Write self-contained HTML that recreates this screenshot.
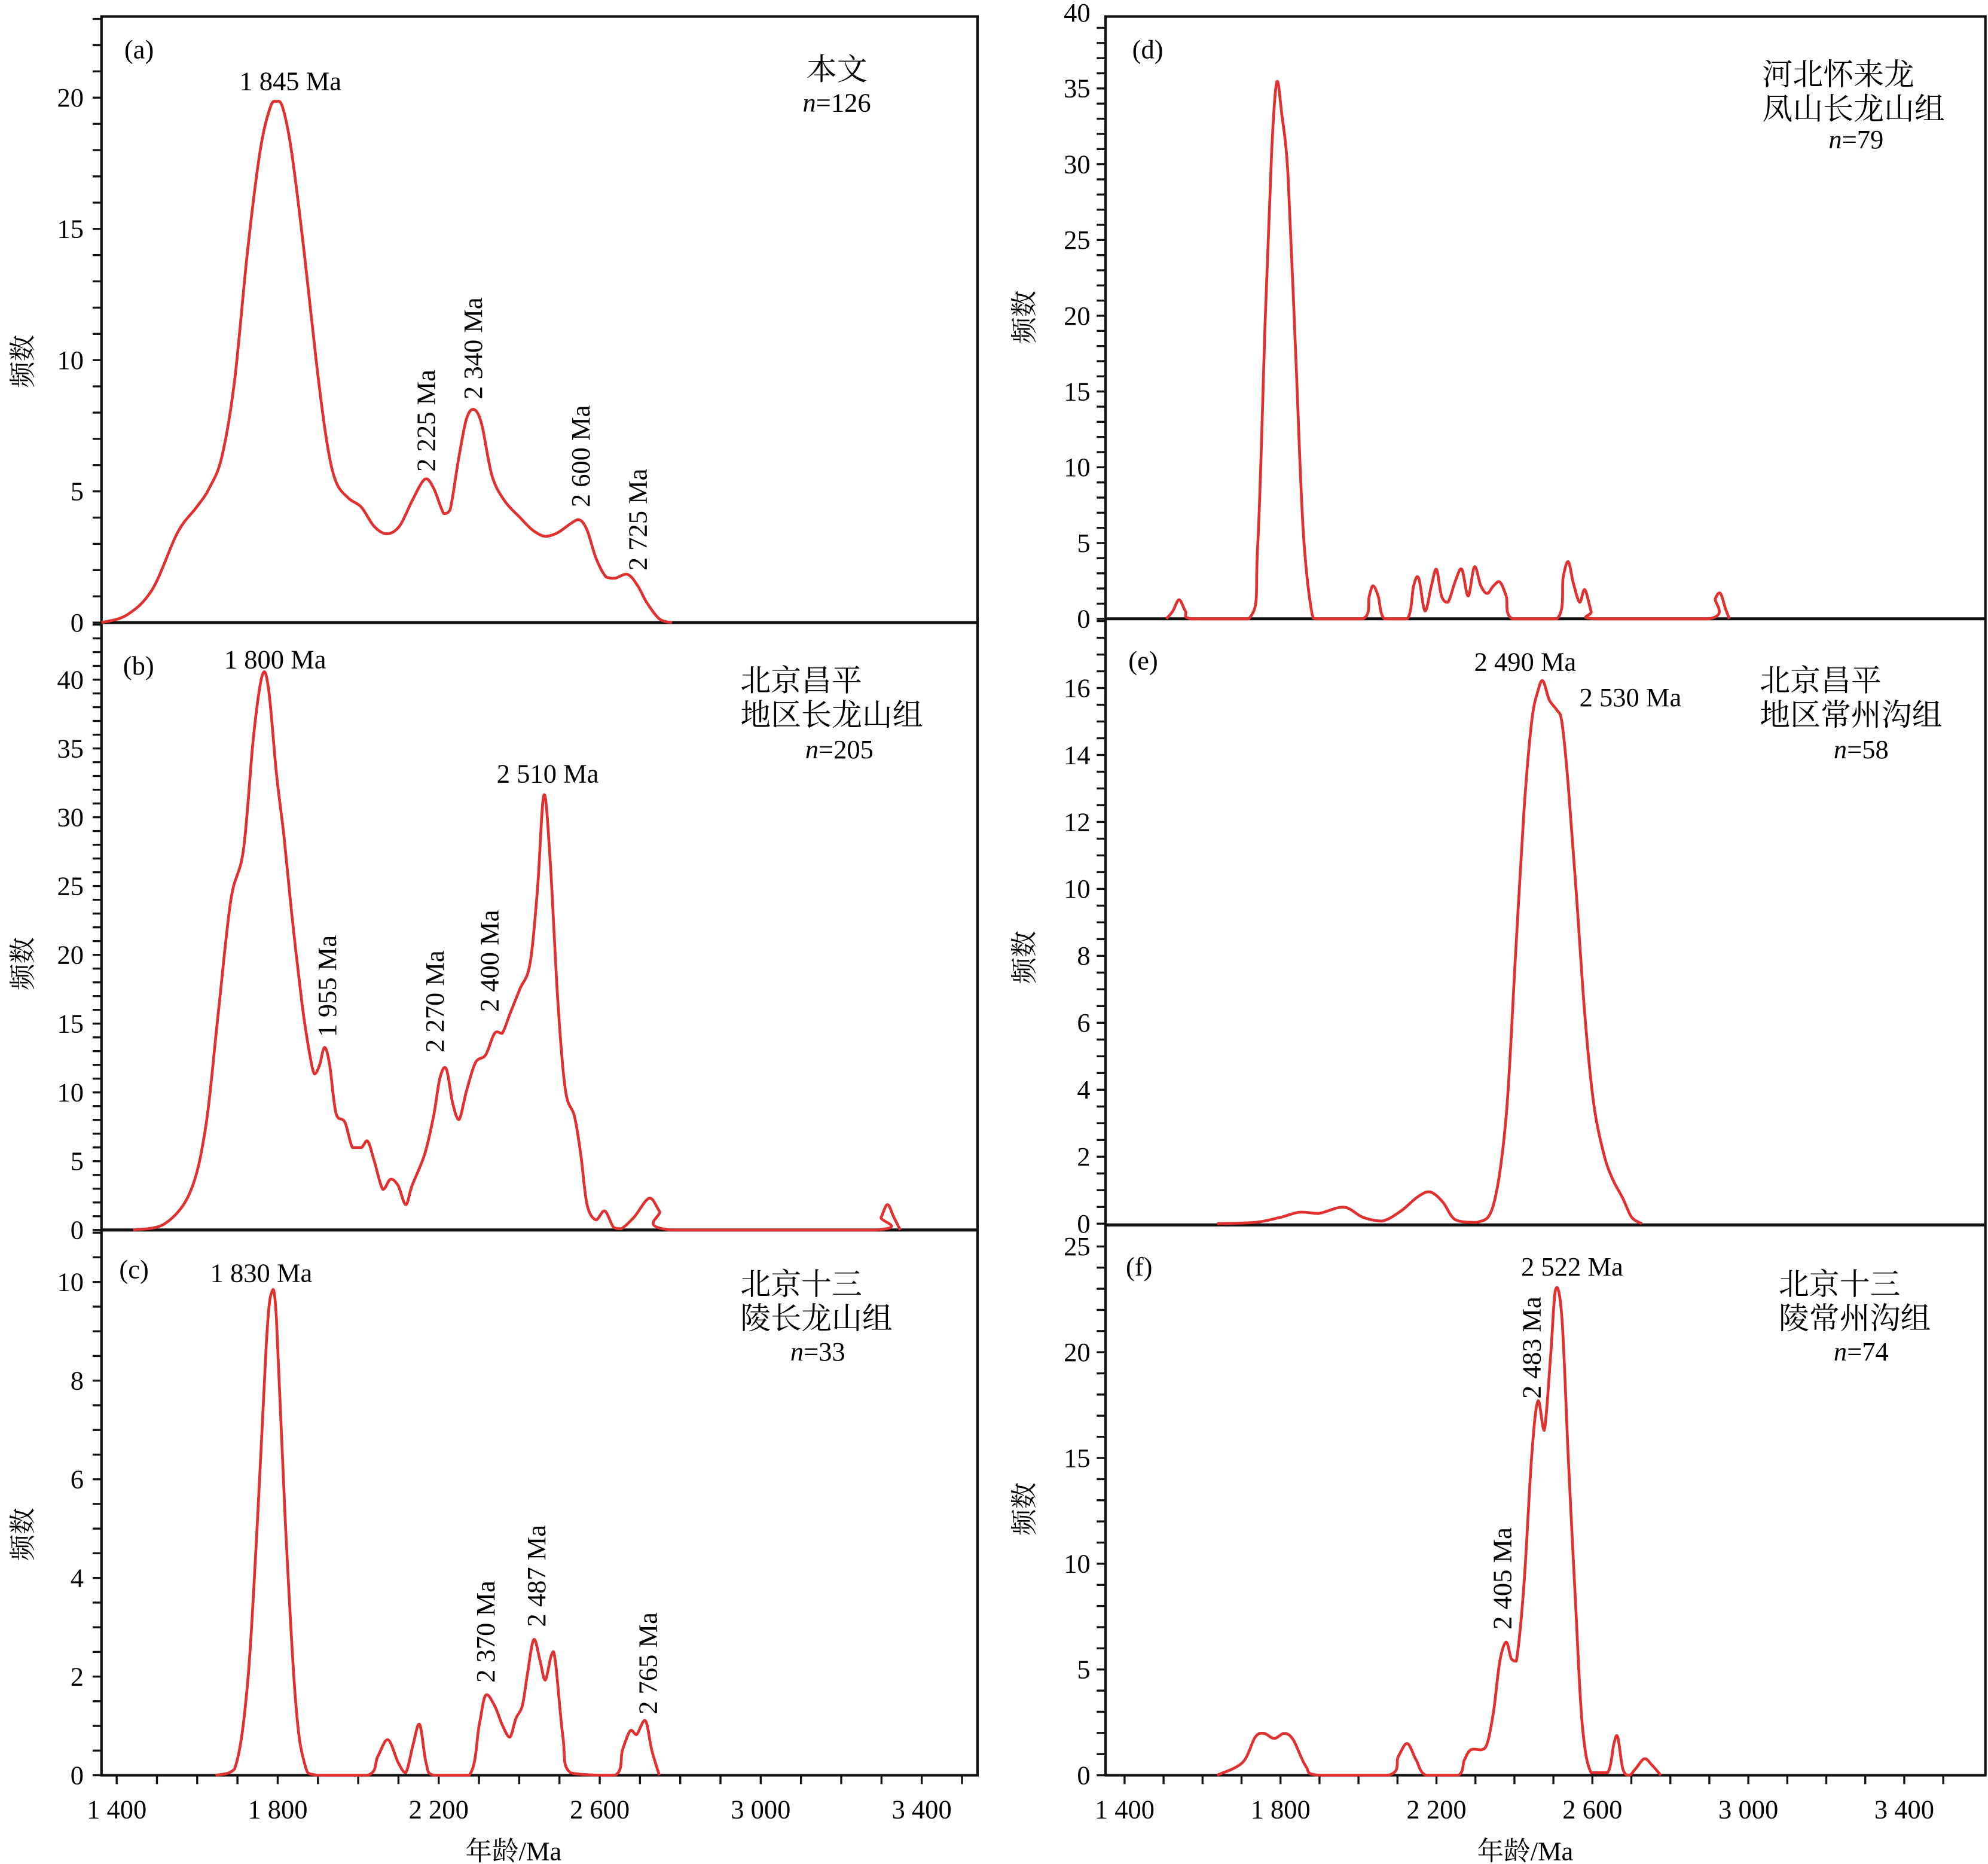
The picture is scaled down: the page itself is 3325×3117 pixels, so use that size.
<!DOCTYPE html>
<html><head><meta charset="utf-8"><style>html,body{margin:0;padding:0;background:#fff}svg{display:block}</style></head>
<body>
<svg id="s" xmlns="http://www.w3.org/2000/svg" width="3325" height="3117" viewBox="0 0 1568 1470" font-family="Liberation Serif, Noto Serif CJK SC, serif" font-size="21"></svg>
<script>
var s=document.getElementById('s'),h='';
function L(x1,y1,x2,y2,w){h+='<line x1="'+x1+'" y1="'+y1+'" x2="'+x2+'" y2="'+y2+'" stroke="#111" stroke-width="'+(w||1.6)+'"/>';}
function T(x,y,t,a,r,fs){h+='<text x="'+x+'" y="'+y+'" text-anchor="'+(a||'middle')+'"'+(r?' transform="rotate(-90 '+x+' '+y+')"':'')+(fs?' font-size="'+fs+'"':'')+'>'+t+'</text>';}
function P(p){var d='M'+p[0][0]+','+p[0][1];for(var i=0;i<p.length-1;i++){var a=p[i-1]||p[i],b=p[i],c=p[i+1],e=p[i+2]||c;
 var c1x=b[0]+(c[0]-a[0])/6,c1y=b[1]+(c[1]-a[1])/6,c2x=c[0]-(e[0]-b[0])/6,c2y=c[1]-(e[1]-b[1])/6;
 c1y=Math.min(c1y,Math.max(b[1],c[1])+0);c2y=Math.min(c2y,Math.max(b[1],c[1]));
 d+=' C'+c1x.toFixed(1)+','+c1y.toFixed(1)+' '+c2x.toFixed(1)+','+c2y.toFixed(1)+' '+c[0]+','+c[1];}
 h+='<path fill="none" stroke="#e03030" stroke-width="2.2" stroke-linejoin="round" d="'+d+'"/>';}
h+='<rect x="80" y="13" width="691" height="1387" fill="none" stroke="#111" stroke-width="2"/>';
h+='<rect x="872" y="13" width="694" height="1387" fill="none" stroke="#111" stroke-width="2"/>';
L(80,491,771,491,2.4);L(80,970,771,970,2.4);L(872,488,1566,488,2.4);L(872,966,1566,966,2.4);
function Y(xa,y0,y1,ppu,maxv,step,sub,lx){
 for(var i=0;i<200;i++){var y=y0-i*ppu*step/sub;if(y<y1-1)break;L(xa-7,y,xa,y,1.6);}
 for(var v=0;v<=maxv;v+=step){T(lx,y0-v*ppu+7,v,'end');}
}
Y(80,491,15,20.7,20,5,5,66);
Y(80,970,493,10.85,40,5,5,66);
Y(80,1400,972,38.9,10,2,4,66);
Y(872,488,15,11.95,40,5,5,860);
Y(872,965,490,26.4,16,2,4,860);
Y(872,1400,968,16.68,25,5,5,860);
function X(x0,ppm,xl,xr){for(var a=1300;a<=3500;a+=100){var x=x0+(a-1400)*ppm;if(x<xl||x>xr)continue;L(x,1400,x,1407,1.6);}
 for(var a=1400;a<=3400;a+=400){var x=x0+(a-1400)*ppm;T(x,1434,(a+'').replace(/^(\d)(\d{3})$/,'$1 $2'));}}
X(92,0.3175,80,771);X(887,0.3075,872,1566);
T(405,1467,'年龄/Ma');T(1203,1467,'年龄/Ma');
[[18,285],[18,760],[18,1210],[808,250],[808,755],[808,1190]].forEach(function(p){T(p[0]+7,p[1],'频数','middle',true);});
T(98,46,'(a)','start');T(97,532,'(b)','start');T(94,1008,'(c)','start');T(893,46,'(d)','start');T(890,528,'(e)','start');T(888,1006,'(f)','start');
var F=24;
T(660,63,'本文','middle',false,F);T(660,88,'<tspan font-style="italic">n</tspan>=126');
T(584,545,'北京昌平','start',false,F);T(584,572,'地区长龙山组','start',false,F);T(662,598,'<tspan font-style="italic">n</tspan>=205');
T(584,1021,'北京十三','start',false,F);T(584,1048,'陵长龙山组','start',false,F);T(645,1073,'<tspan font-style="italic">n</tspan>=33');
T(1390,67,'河北怀来龙','start',false,F);T(1390,94,'凤山长龙山组','start',false,F);T(1464,117,'<tspan font-style="italic">n</tspan>=79');
T(1388,545,'北京昌平','start',false,F);T(1388,572,'地区常州沟组','start',false,F);T(1468,598,'<tspan font-style="italic">n</tspan>=58');
T(1403,1021,'北京十三','start',false,F);T(1403,1048,'陵常州沟组','start',false,F);T(1468,1073,'<tspan font-style="italic">n</tspan>=74');
T(229,71,'1 845 Ma');T(343,372,'2 225 Ma','start',true);T(380,315,'2 340 Ma','start',true);T(465,400,'2 600 Ma','start',true);T(510,450,'2 725 Ma','start',true);
T(217,527,'1 800 Ma');T(265,818,'1 955 Ma','start',true);T(350,830,'2 270 Ma','start',true);T(393,798,'2 400 Ma','start',true);T(432,617,'2 510 Ma');
T(206,1011,'1 830 Ma');T(390,1327,'2 370 Ma','start',true);T(430,1283,'2 487 Ma','start',true);T(518,1352,'2 765 Ma','start',true);
T(1203,529,'2 490 Ma');T(1286,557,'2 530 Ma');
T(1240,1006,'2 522 Ma');T(1215,1103,'2 483 Ma','start',true);T(1192,1285,'2 405 Ma','start',true);
P([[80,491],[100,485],[120,465],[140,420],[155,400],[165,385],[175,360],[185,300],[195,200],[205,120],[213,85],[218,80],[223,85],[230,120],[240,200],[250,290],[258,350],[265,380],[275,393],[285,400],[295,415],[305,421],[315,415],[325,395],[335,378],[342,385],[350,405],[355,402],[362,360],[368,330],[374,323],[380,335],[388,375],[398,395],[410,408],[420,418],[430,423],[440,420],[450,413],[457,410],[463,418],[470,440],[478,455],[485,456],[495,453],[503,462],[510,475],[520,488],[530,491]]);
P([[105,970],[130,965],[150,940],[162,890],[172,800],[182,710],[192,670],[200,580],[207,532],[212,545],[218,610],[224,660],[230,720],[238,790],[244,830],[248,847],[252,840],[256,826],[260,840],[265,878],[272,885],[278,905],[285,905],[290,900],[295,915],[302,938],[308,930],[314,935],[320,950],[325,935],[335,910],[342,880],[347,850],[352,843],[357,870],[362,883],[368,860],[375,838],[383,832],[390,815],[396,815],[402,800],[410,780],[418,760],[424,700],[429,627],[434,680],[440,790],[446,860],[453,880],[458,910],[463,950],[470,962],[477,955],[484,968],[490,969],[500,960],[512,945],[520,955],[530,970],[690,970],[695,960],[700,950],[705,960],[710,970]]);
P([[170,1400],[185,1395],[195,1330],[203,1200],[210,1060],[214,1020],[218,1040],[225,1200],[233,1340],[240,1390],[250,1400],[290,1400],[298,1385],[306,1372],[314,1390],[320,1398],[326,1375],[331,1360],[336,1390],[342,1400],[370,1400],[378,1360],[383,1337],[390,1345],[396,1360],[402,1370],[407,1355],[412,1345],[416,1320],[421,1293],[426,1310],[430,1325],[435,1305],[438,1310],[444,1370],[450,1398],[485,1400],[491,1380],[497,1365],[502,1368],[509,1357],[514,1380],[520,1400]]);
P([[920,488],[925,482],[930,473],[935,482],[940,488],[985,488],[992,430],[998,250],[1003,120],[1007,65],[1011,90],[1016,140],[1022,280],[1028,420],[1035,485],[1040,488],[1075,488],[1080,470],[1083,462],[1087,470],[1092,488],[1110,488],[1115,462],[1119,456],[1124,482],[1129,462],[1133,449],[1137,470],[1142,475],[1148,458],[1153,449],[1158,470],[1163,447],[1168,462],[1173,468],[1178,462],[1183,459],[1188,470],[1193,488],[1228,488],[1233,455],[1237,443],[1241,460],[1246,475],[1250,465],[1255,482],[1258,488],[1348,488],[1353,472],[1357,468],[1361,480],[1364,488]]);
P([[960,965],[990,964],[1010,960],[1025,956],[1040,957],[1060,952],[1075,960],[1090,963],[1105,955],[1118,944],[1128,940],[1138,948],[1148,962],[1165,964],[1178,950],[1188,880],[1195,760],[1202,640],[1208,570],[1213,545],[1217,537],[1222,552],[1228,560],[1232,570],[1237,620],[1243,700],[1250,800],[1257,870],[1265,910],[1272,930],[1280,945],[1287,960],[1295,965]]);
P([[960,1400],[980,1390],[990,1370],[997,1367],[1005,1371],[1013,1367],[1020,1372],[1030,1393],[1040,1400],[1095,1400],[1103,1385],[1110,1375],[1117,1388],[1125,1400],[1150,1400],[1155,1388],[1160,1380],[1168,1380],[1173,1375],[1178,1350],[1183,1310],[1188,1295],[1192,1308],[1196,1310],[1202,1250],[1208,1150],[1213,1105],[1218,1128],[1223,1070],[1227,1017],[1232,1040],[1237,1150],[1243,1270],[1248,1360],[1255,1398],[1268,1398],[1273,1375],[1276,1370],[1280,1395],[1285,1400],[1290,1395],[1297,1387],[1303,1392],[1310,1400]]);
s.innerHTML=h;
</script>
</body></html>
